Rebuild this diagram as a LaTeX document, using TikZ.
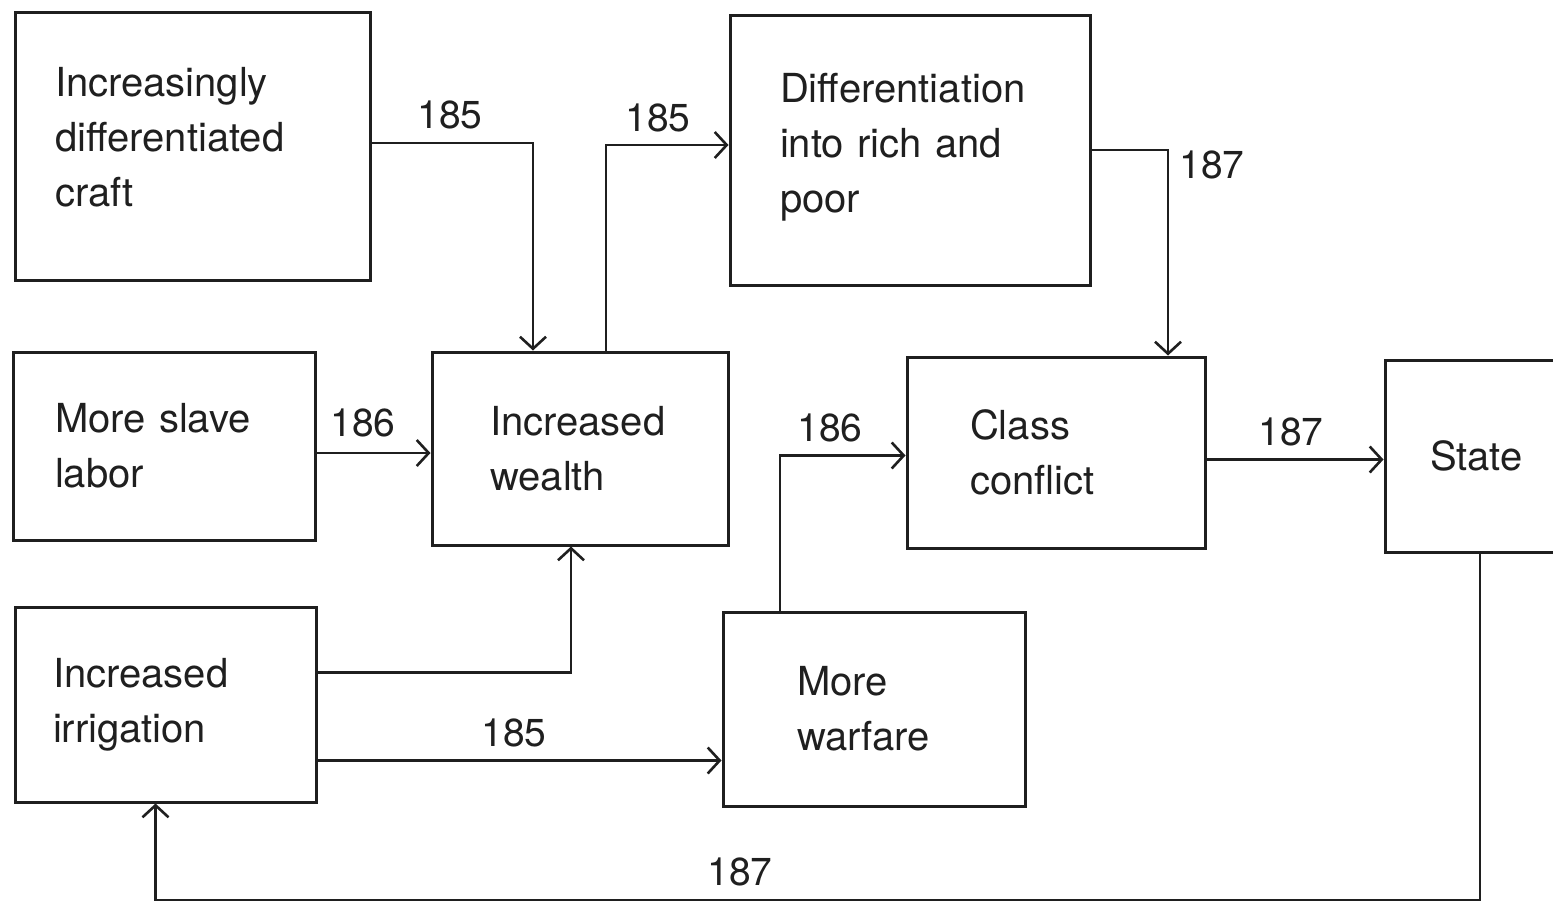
\documentclass[tikz,border=0pt]{standalone}
\usepackage{fontspec}
\setmainfont{TeX Gyre Heros}
\usetikzlibrary{arrows.meta}
\hyphenpenalty=10000
\exhyphenpenalty=10000
\begin{document}
\begin{tikzpicture}[x=1pt,y=-1pt,
  ink/.style={color=black!88},
  box/.style={ink, draw, rectangle, line width=3pt, inner sep=0pt, align=left,
    font=\fontsize{40}{55}\selectfont},
  arr/.style={ink, line width=2.8pt,
    -{Straight Barb[length=12pt,width=26pt,line width=2.6pt]}},
  num/.style={ink, inner sep=0pt, font=\fontsize{39}{39}\selectfont}]
\useasboundingbox (0,0) rectangle (1553,908);
\clip (0,0) rectangle (1553,908);

% boxes
\node[box, minimum width=355pt, minimum height=268pt, text width=275pt] (craft) at (192.5,146)
  {Increasingly\\differentiated\\craft\par\vspace*{18pt}};
\node[box, minimum width=360pt, minimum height=270pt, text width=260pt] (diff) at (910,150)
  {Differentiation\\into rich and\\poor\par\vspace*{6pt}};
\node[box, minimum width=302pt, minimum height=188pt, text width=218pt] (slave) at (164,446)
  {More slave\\labor};
\node[box, minimum width=296pt, minimum height=193pt, text width=180pt] (wealth) at (580,448.5)
  {Increased\\wealth};
\node[box, minimum width=298pt, minimum height=191pt, text width=172pt] (class) at (1056,452.5)
  {Class\\conflict};
\node[box, minimum width=215pt, minimum height=192pt, text width=125pt] (state) at (1492.5,456)
  {State};
\node[box, minimum width=301pt, minimum height=195pt, text width=225pt] (irr) at (165.5,704.5)
  {Increased\\irrigation};
\node[box, minimum width=302pt, minimum height=194pt, text width=154pt] (war) at (874,709)
  {More\\warfare};

% connectors
\draw[arr] ([yshift=3pt]craft.east) -| ([xshift=-47pt]wealth.north);
\draw[arr] ([xshift=26pt]wealth.north) |- ([yshift=5pt]diff.west);
\draw[arr] (diff.east) -| ([xshift=112pt]class.north);
\draw[arr] ([yshift=-7pt]slave.east) -- ([yshift=-7pt]slave.east -| wealth.west);
\draw[arr] ([yshift=32pt]irr.east) -| ([xshift=-9pt]wealth.south);
\draw[arr] ([yshift=-56pt]irr.east) -- ([yshift=-56pt]irr.east -| war.west);
\draw[arr] ([xshift=-94pt]war.north) |- ([yshift=-3pt]class.west);
\draw[arr] ([yshift=-7pt]class.east) -- ([yshift=-7pt]class.east -| state.west);
\coordinate (loop) at (1480,900);
\draw[arr] (state.south -| loop) -- (loop) -| ([xshift=-10pt]irr.south);

% page references
\node[num] (r1) at (450,115) {185};
\node[num] (r2) at (658,118) {185};
\node[num] (r3) at (1212,165) {187};
\node[num] (r4) at (363,423) {186};
\node[num] (r5) at (830,428) {186};
\node[num] (r6) at (1291,432) {187};
\node[num] (r7) at (514,733) {185};
\node[num] (r8) at (740,872) {187};
\end{tikzpicture}
\end{document}
